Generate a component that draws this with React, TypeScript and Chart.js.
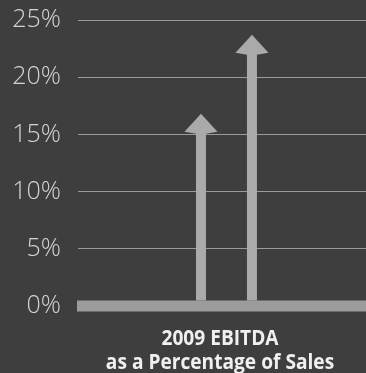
import React, { useEffect, useRef } from "react";
import { Chart, registerables } from "chart.js";

Chart.register(...registerables);

const arrowPositions = [4.27, 6.04];
const ebitdaPercent = [16.8, 23.7];
const yTickStep = 5;
const yMax = 25;
const titleLines = ["2009 EBITDA", "as a Percentage of Sales"];

const baseBarPlugin = {
  id: "baseBar",
  beforeDatasetsDraw(chart: any) {
    const ctx = chart.ctx;
    const { left, right } = chart.chartArea;
    const y0 = chart.scales.y.getPixelForValue(0);
    ctx.save();
    ctx.fillStyle = "#9c9c9c";
    ctx.fillRect(left - 1, y0 - 5.5, right - left + 1, 11);
    ctx.restore();
  },
};

const arrowPlugin = {
  id: "arrowHeads",
  afterDatasetsDraw(chart: any) {
    const meta = chart.getDatasetMeta(0);
    const ctx = chart.ctx;
    ctx.save();
    ctx.fillStyle = "#aaaaaa";
    meta.data.forEach((el: any) => {
      const { x, y, base } = el.getProps(["x", "y", "base"], true);
      const headH = 20;
      const headW = 33;
      const shaftW = 10;
      ctx.fillRect(x - shaftW / 2, y + headH - 1, shaftW, base - y - headH - 4);
      ctx.beginPath();
      ctx.moveTo(x, y);
      ctx.lineTo(x + headW / 2, y + headH - 2);
      ctx.lineTo(x + shaftW / 2, y + headH);
      ctx.lineTo(x - shaftW / 2, y + headH);
      ctx.lineTo(x - headW / 2, y + headH - 2);
      ctx.closePath();
      ctx.fill();
    });
    ctx.restore();
  },
};

const titlePlugin = {
  id: "bottomTitle",
  afterDraw(chart: any) {
    const ctx = chart.ctx;
    const { left, right, bottom } = chart.chartArea;
    const cx = (left + right) / 2 - 2;
    const hScale = 0.87;
    ctx.save();
    ctx.fillStyle = "#f0f0f0";
    ctx.textAlign = "center";
    ctx.textBaseline = "alphabetic";
    ctx.font = "bold 22px 'Open Sans', sans-serif";
    ctx.translate(cx, 0);
    ctx.scale(hScale, 1);
    ctx.fillText(titleLines[0], 0, bottom + 39);
    ctx.fillText(titleLines[1], 0, bottom + 63);
    ctx.restore();
  },
};

export default function App() {
  const ref = useRef<HTMLCanvasElement | null>(null);
  useEffect(() => {
    if (!ref.current) return;
    const chart = new Chart(ref.current, {
      type: "bar",
      data: {
        datasets: [
          {
            data: arrowPositions.map((x, i) => ({ x, y: ebitdaPercent[i] })),
            backgroundColor: "rgba(0,0,0,0)",
            barThickness: 10,
          },
        ],
      },
      options: {
        animation: false,
        responsive: false,
        layout: { padding: { top: 20, left: 0, right: 0, bottom: 67 } },
        plugins: { legend: { display: false }, tooltip: { enabled: false }, title: { display: false } },
        scales: {
          x: {
            type: "linear",
            min: 0,
            max: 10,
            offset: false,
            ticks: { display: false },
            grid: { display: false, drawTicks: false },
            border: { display: false },
          },
          y: {
            min: 0,
            max: yMax,
            afterFit: (scale: any) => {
              scale.width = 78;
              scale.paddingTop = 0;
              scale.paddingBottom = 0;
            },
            ticks: {
              stepSize: yTickStep,
              color: "#d4d4d4",
              padding: 17,
              font: { family: "'Open Sans', 'DejaVu Sans', sans-serif", size: 25, weight: "300", lineHeight: 0.6 },
              callback: (v: any) => v + "%",
            },
            grid: { color: "#9a9a9a", lineWidth: 1, drawTicks: false },
            border: { display: false },
          },
        },
      },
      plugins: [baseBarPlugin, arrowPlugin, titlePlugin],
    });
    return () => chart.destroy();
  }, []);
  return (
    <div style={{ position: "absolute", left: 0, top: 0, width: 366, height: 373, background: "#3e3e3e" }}>
      <canvas ref={ref} width={366} height={373} style={{ display: "block" }} />
    </div>
  );
}
